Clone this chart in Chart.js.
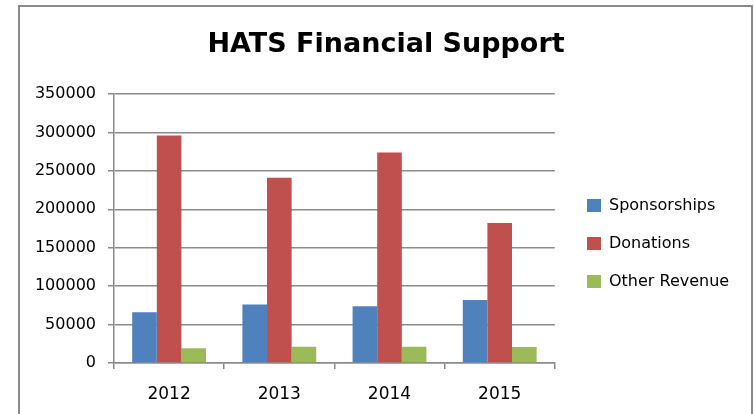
<!DOCTYPE html>
<html>
<head>
<meta charset="utf-8">
<script src="https://cdn.jsdelivr.net/npm/chart.js@4"></script>
<style>
  body { margin: 0; background: #fff; }
  #wrap { position: relative; width: 754px; height: 414px; overflow: hidden; }
  #frame { position: absolute; left: 18px; top: 5px; width: 731px; height: 420px; border: 2px solid #8a8a8a; }
  canvas { position: absolute; left: 0; top: 0; }
</style>
</head>
<body>
<div id="wrap">
  <div id="frame"></div>
  <canvas id="bar-chart" width="754" height="414"></canvas>
</div>
<script>
const years = ["2012", "2013", "2014", "2015"];
const sponsorships = [66000, 76000, 73800, 82000];
const donations = [296000, 241000, 274000, 182000];
const otherRevenue = [19100, 21300, 21300, 20800];
const yTicks = [0, 50000, 100000, 150000, 200000, 250000, 300000, 350000];

const gridGray = "#8c8c8c";

// title centred over the whole frame, legend pushed a bit away from the plot
// and kept below the title
const placeBlocks = {
    id: "placeBlocks",
    afterLayout(chart) {
        chart.titleBlock.left = 18;
        chart.titleBlock.right = 754;
        let w = chart.legend.width;
        chart.legend.left = 565;
        chart.legend.right = 565 + w;
        chart.legend.top = chart.titleBlock.bottom;
        chart.legend.bottom = 414;
    }
};

document.addEventListener('DOMContentLoaded', draw)
function draw()
{
    new Chart(document.getElementById("bar-chart"), {
        type: 'bar',
        data: {
            labels: years,
            datasets: [
                { label: "Sponsorships", data: sponsorships, backgroundColor: "#4F81BD" },
                { label: "Donations", data: donations, backgroundColor: "#C0504D" },
                { label: "Other Revenue", data: otherRevenue, backgroundColor: "#9BBB59" }
            ]
        },
        plugins: [placeBlocks],
        options: {
            responsive: false,
            animation: false,
            categoryPercentage: 0.67,
            barPercentage: 1.0,
            layout: { padding: { left: 18, right: 25, top: 0, bottom: 0 } },
            plugins: {
                title: {
                    display: true,
                    text: 'HATS Financial Support',
                    color: '#000',
                    font: { family: 'DejaVu Sans', size: 27, weight: 'bold' },
                    padding: { top: 29, bottom: 11.6 }
                },
                legend: {
                    position: 'right',
                    labels: {
                        color: '#000',
                        font: { family: 'DejaVu Sans', size: 16 },
                        boxWidth: 14,
                        boxHeight: 13,
                        padding: 22
                    }
                },
                tooltip: { enabled: false }
            },
            scales: {
                x: {
                    grid: { display: true, drawOnChartArea: false, color: gridGray, lineWidth: 1.5, tickLength: 6, offset: true },
                    border: { color: gridGray, width: 1.5 },
                    ticks: { color: '#000', font: { family: 'DejaVu Sans', size: 17 }, padding: 15 },
                    afterFit(s) { s.height = 51; }
                },
                xTop: {
                    type: 'linear', position: 'top', display: true,
                    grid: { display: false }, border: { display: false }, ticks: { display: false },
                    afterFit(s) { s.height = 21; }
                },
                y: {
                    min: 0,
                    max: 350000,
                    afterBuildTicks(s) { s.ticks = yTicks.map(v => ({ value: v })); },
                    grid: { color: gridGray, lineWidth: 1.5, tickLength: 6 },
                    border: { color: gridGray, width: 1.5 },
                    ticks: {
                        color: '#000',
                        font: { family: 'DejaVu Sans', size: 16 },
                        padding: 12,
                        callback: v => String(v)
                    },
                    afterFit(s) { s.width = 96; }
                }
            }
        }
    });
}
</script>
</body>
</html>
